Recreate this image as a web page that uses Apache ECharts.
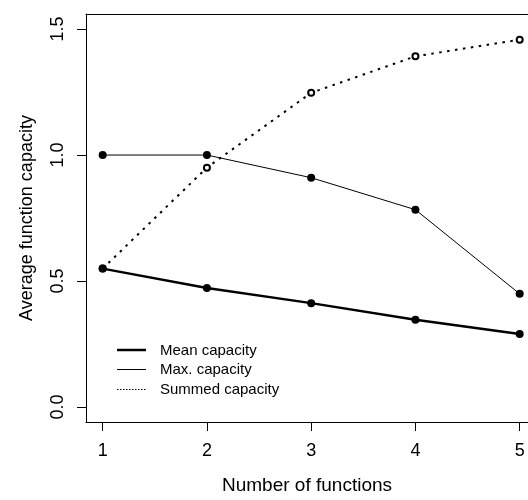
<!DOCTYPE html>
<html>
<head>
<meta charset="utf-8">
<script src="https://cdn.jsdelivr.net/npm/echarts@6/dist/echarts.min.js"></script>
<style>html,body{margin:0;padding:0;background:#fff;}#c{width:528px;height:500px;}</style>
</head>
<body>
<div id="c"></div>
<script>
var xValues = [1, 2, 3, 4, 5];
var meanCapacity = [0.549, 0.472, 0.412, 0.346, 0.289];
var maxCapacity = [1.0, 1.0, 0.91, 0.783, 0.449];
var summedCapacity = [0.549, 0.95, 1.247, 1.392, 1.458];
var yTicks = [0, 0.5, 1.0, 1.5];
var legendLabels = ['Mean capacity', 'Max. capacity', 'Summed capacity'];

function pairs(ys) { return xValues.map(function (x, i) { return [x, ys[i]]; }); }

var FONT = '"Liberation Sans", Arial, sans-serif';
var chart = echarts.init(document.getElementById('c'), null, {renderer: 'canvas'});
chart.setOption({
  backgroundColor: '#fff',
  animation: false,
  grid: {left: 86, right: 0, top: 14, bottom: 78, show: false},
  xAxis: [{
    type: 'value', min: 0.84, max: 5.08, position: 'bottom',
    name: 'Number of functions', nameLocation: 'middle', nameGap: 54,
    nameTextStyle: {fontFamily: FONT, fontSize: 19, color: '#000'},
    axisLine: {show: true, onZero: false, lineStyle: {color: '#000', width: 1}},
    axisTick: {show: true, length: 9, lineStyle: {color: '#000'}, customValues: xValues},
    axisLabel: {fontFamily: FONT, fontSize: 18, color: '#000', margin: 20, customValues: xValues,
      formatter: function (v) { return String(v); }},
    splitLine: {show: false}
  }, {
    type: 'value', min: 0.84, max: 5.08, position: 'top',
    axisLine: {show: true, onZero: false, lineStyle: {color: '#000', width: 1}},
    axisTick: {show: false}, axisLabel: {show: false}, splitLine: {show: false}
  }],
  yAxis: {
    type: 'value', min: -0.06, max: 1.56,
    name: 'Average function capacity', nameLocation: 'middle', nameGap: 50,
    nameTextStyle: {fontFamily: FONT, fontSize: 18, color: '#000'},
    axisLine: {show: true, onZero: false, lineStyle: {color: '#000', width: 1}},
    axisTick: {show: true, length: 9, lineStyle: {color: '#000'}, customValues: yTicks},
    axisLabel: {fontFamily: FONT, fontSize: 18, color: '#000', margin: 19, rotate: 90, customValues: yTicks,
      formatter: function (v) { return v.toFixed(1); }},
    splitLine: {show: false}
  },
  series: [
    {name: legendLabels[0], type: 'line', data: pairs(meanCapacity), symbol: 'circle', symbolSize: 8,
      itemStyle: {color: '#000'}, lineStyle: {color: '#000', width: 2.5}, z: 3},
    {name: legendLabels[1], type: 'line', data: pairs(maxCapacity), symbol: 'circle', symbolSize: 8,
      itemStyle: {color: '#000'}, lineStyle: {color: '#000', width: 1}, z: 3},
    {name: legendLabels[2], type: 'line', data: pairs(summedCapacity), symbol: 'emptyCircle', symbolSize: 6,
      itemStyle: {color: '#000', borderColor: '#000', borderWidth: 1}, lineStyle: {color: '#000', width: 2, type: [2.5, 5.5]}, z: 2}
  ],
  graphic: [
    {type: 'line', shape: {x1: 117, y1: 350, x2: 146, y2: 350}, style: {stroke: '#000', lineWidth: 2.5}},
    {type: 'line', shape: {x1: 117, y1: 369.5, x2: 146, y2: 369.5}, style: {stroke: '#000', lineWidth: 1}},
    {type: 'line', shape: {x1: 117, y1: 389.5, x2: 146, y2: 389.5}, style: {stroke: '#000', lineWidth: 1, lineDash: [1.5, 1.5]}},
    {type: 'text', left: 160, top: 343, style: {text: legendLabels[0], font: '15px ' + FONT, fill: '#000'}},
    {type: 'text', left: 160, top: 362, style: {text: legendLabels[1], font: '15px ' + FONT, fill: '#000'}},
    {type: 'text', left: 160, top: 382, style: {text: legendLabels[2], font: '15px ' + FONT, fill: '#000'}}
  ]
});
</script>
</body>
</html>
